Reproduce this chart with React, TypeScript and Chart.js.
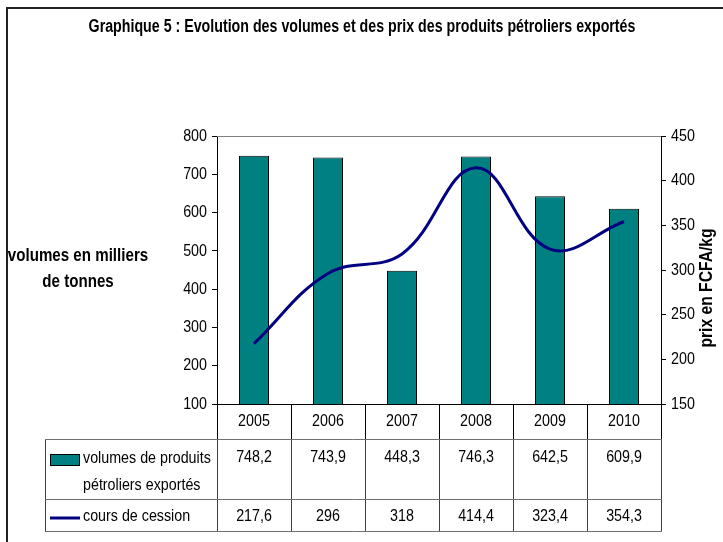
import React, { useEffect, useRef } from "react";
import { Chart, registerables } from "chart.js";

Chart.register(...registerables);

const years = ["2005", "2006", "2007", "2008", "2009", "2010"];
const volumes = [748.2, 743.9, 448.3, 746.3, 642.5, 609.9];
const prices = [217.6, 296, 318, 414.4, 323.4, 354.3];
const volumeLabels = ["748,2", "743,9", "448,3", "746,3", "642,5", "609,9"];
const priceLabels = ["217,6", "296", "318", "414,4", "323,4", "354,3"];
const leftTicks = [100, 200, 300, 400, 500, 600, 700, 800];
const rightTicks = [150, 200, 250, 300, 350, 400, 450];

const titleText = "Graphique 5 : Evolution des volumes et des prix des produits pétroliers exportés";
const leftTitle = ["volumes en milliers", "de tonnes"];
const rightTitle = "prix en FCFA/kg";
const legendVolume = ["volumes de produits", "pétroliers exportés"];
const legendPrice = "cours de cession";

const FONT = "'Liberation Sans', Arial, sans-serif";
const TEAL = "#008080";
const NAVY = "#000080";
const SX = 0.84;

function narrow(
  ctx: CanvasRenderingContext2D,
  text: string,
  x: number,
  y: number,
  align: CanvasTextAlign,
  font: string,
  sx = SX
) {
  ctx.save();
  ctx.translate(x, y);
  ctx.scale(sx, 1);
  ctx.font = font;
  ctx.textAlign = align;
  ctx.textBaseline = "middle";
  ctx.fillStyle = "#000";
  ctx.fillText(text, 0, 0);
  ctx.restore();
}

const decorPlugin = {
  id: "decor",
  afterDraw(chart: any) {
    const ctx = chart.ctx as CanvasRenderingContext2D;
    const area = chart.chartArea;
    const xs = chart.scales.x;
    const ys = chart.scales.y;
    const ys1 = chart.scales.y1;
    const n = years.length;
    const step = (area.right - area.left) / n;
    ctx.save();

    // outer frame
    ctx.strokeStyle = "#222";
    ctx.lineWidth = 2;
    ctx.beginPath();
    ctx.moveTo(7, 560);
    ctx.lineTo(7, 8);
    ctx.lineTo(740, 8);
    ctx.stroke();

    // plot area top border
    ctx.strokeStyle = "#808080";
    ctx.lineWidth = 1;
    ctx.beginPath();
    ctx.moveTo(area.left, area.top + 0.5);
    ctx.lineTo(area.right, area.top + 0.5);
    ctx.stroke();

    // titles
    narrow(ctx, titleText, 362, 27, "center", `bold 18px ${FONT}`, 0.79);
    narrow(ctx, leftTitle[0], 78, 256, "center", `bold 18px ${FONT}`);
    narrow(ctx, leftTitle[1], 78, 282, "center", `bold 18px ${FONT}`);
    ctx.save();
    ctx.translate(707, 288);
    ctx.rotate(-Math.PI / 2);
    narrow(ctx, rightTitle, 0, 0, "center", `bold 18px ${FONT}`, 0.87);
    ctx.restore();

    // tick labels
    const tickFont = `17px ${FONT}`;
    leftTicks.forEach((v) => {
      narrow(ctx, String(v), area.left - 10, ys.getPixelForValue(v), "right", tickFont);
    });
    rightTicks.forEach((v) => {
      narrow(ctx, String(v), area.right + 10, ys1.getPixelForValue(v), "left", tickFont);
    });

    // table geometry
    const rowHeaderTop = area.bottom;
    const row1Top = 439;
    const row2Top = 499;
    const tableBottom = 531;
    const tableLeft = 45;

    ctx.strokeStyle = "#000";
    ctx.lineWidth = 1;
    ctx.beginPath();
    for (let i = 0; i <= n; i++) {
      const x = Math.round(area.left + i * step) + 0.5;
      ctx.moveTo(x, rowHeaderTop);
      ctx.lineTo(x, row1Top);
    }
    ctx.stroke();

    ctx.strokeStyle = "#404040";
    ctx.beginPath();
    ctx.moveTo(tableLeft + 0.5, row1Top);
    ctx.lineTo(tableLeft + 0.5, tableBottom);
    for (let i = 0; i <= n; i++) {
      const x = Math.round(area.left + i * step) + 0.5;
      ctx.moveTo(x, row1Top);
      ctx.lineTo(x, tableBottom);
    }
    ctx.stroke();

    ctx.strokeStyle = "#707070";
    ctx.beginPath();
    [row1Top, row2Top, tableBottom].forEach((y) => {
      ctx.moveTo(tableLeft, y + 0.5);
      ctx.lineTo(area.right + 1, y + 0.5);
    });
    ctx.stroke();

    const cellFont = `17px ${FONT}`;
    for (let i = 0; i < n; i++) {
      const cx = xs.getPixelForValue(i);
      narrow(ctx, years[i], cx, 421, "center", cellFont);
      narrow(ctx, volumeLabels[i], cx, 457, "center", cellFont);
      narrow(ctx, priceLabels[i], cx, 516, "center", cellFont);
    }

    // legend keys
    ctx.fillStyle = TEAL;
    ctx.fillRect(50, 454, 29, 11);
    ctx.strokeStyle = "#000";
    ctx.lineWidth = 1;
    ctx.strokeRect(50.5, 454.5, 29, 11);

    ctx.strokeStyle = NAVY;
    ctx.lineWidth = 3;
    ctx.beginPath();
    ctx.moveTo(50, 518);
    ctx.lineTo(80, 518);
    ctx.stroke();

    narrow(ctx, legendVolume[0], 83, 458, "left", cellFont);
    narrow(ctx, legendVolume[1], 83, 485, "left", cellFont);
    narrow(ctx, legendPrice, 83, 516, "left", cellFont);

    ctx.restore();
  },
};

export default function App() {
  const ref = useRef<HTMLCanvasElement>(null);

  useEffect(() => {
    document.body.style.margin = "0";
    const canvas = ref.current!;
    const chart = new Chart(canvas, {
      type: "bar",
      data: {
        labels: years,
        datasets: [
          {
            type: "line",
            label: legendPrice,
            data: prices,
            yAxisID: "y1",
            borderColor: NAVY,
            borderWidth: 3,
            pointRadius: 0,
            tension: 0.4,
            fill: false,
            order: 0,
          } as any,
          {
            type: "bar",
            label: legendVolume.join(" "),
            data: volumes,
            yAxisID: "y",
            backgroundColor: TEAL,
            borderColor: "#000",
            borderWidth: 1,
            categoryPercentage: 1,
            barPercentage: 0.405,
            order: 1,
          },
        ],
      },
      options: {
        responsive: false,
        animation: false,
        devicePixelRatio: 1,
        layout: { padding: { top: 136, left: 0, right: 0, bottom: 0 } },
        plugins: {
          legend: { display: false },
          title: { display: false },
          tooltip: { enabled: false },
        },
        scales: {
          x: {
            offset: true,
            ticks: { display: false },
            grid: { display: false },
            border: { display: true, color: "#000", width: 1 },
            afterFit: (s: any) => {
              s.height = 138;
            },
          },
          y: {
            position: "left",
            min: 100,
            max: 800,
            ticks: {
              stepSize: 100,
              color: "rgba(0,0,0,0)",
              padding: 5,
              font: { family: FONT, size: 17 },
            },
            grid: {
              drawOnChartArea: false,
              drawTicks: true,
              tickLength: 5,
              color: "#000",
            },
            border: { display: true, color: "#000", width: 1 },
            afterFit: (s: any) => {
              s.width = 217;
            },
          },
          y1: {
            position: "right",
            min: 150,
            max: 450,
            ticks: {
              stepSize: 50,
              color: "rgba(0,0,0,0)",
              padding: 5,
              font: { family: FONT, size: 17 },
            },
            grid: {
              drawOnChartArea: false,
              drawTicks: true,
              tickLength: 5,
              color: "#000",
            },
            border: { display: true, color: "#000", width: 1 },
            afterFit: (s: any) => {
              s.width = 62;
            },
          },
        },
      },
      plugins: [decorPlugin],
    });
    return () => chart.destroy();
  }, []);

  return <canvas ref={ref} width={723} height={542} style={{ display: "block" }} />;
}
